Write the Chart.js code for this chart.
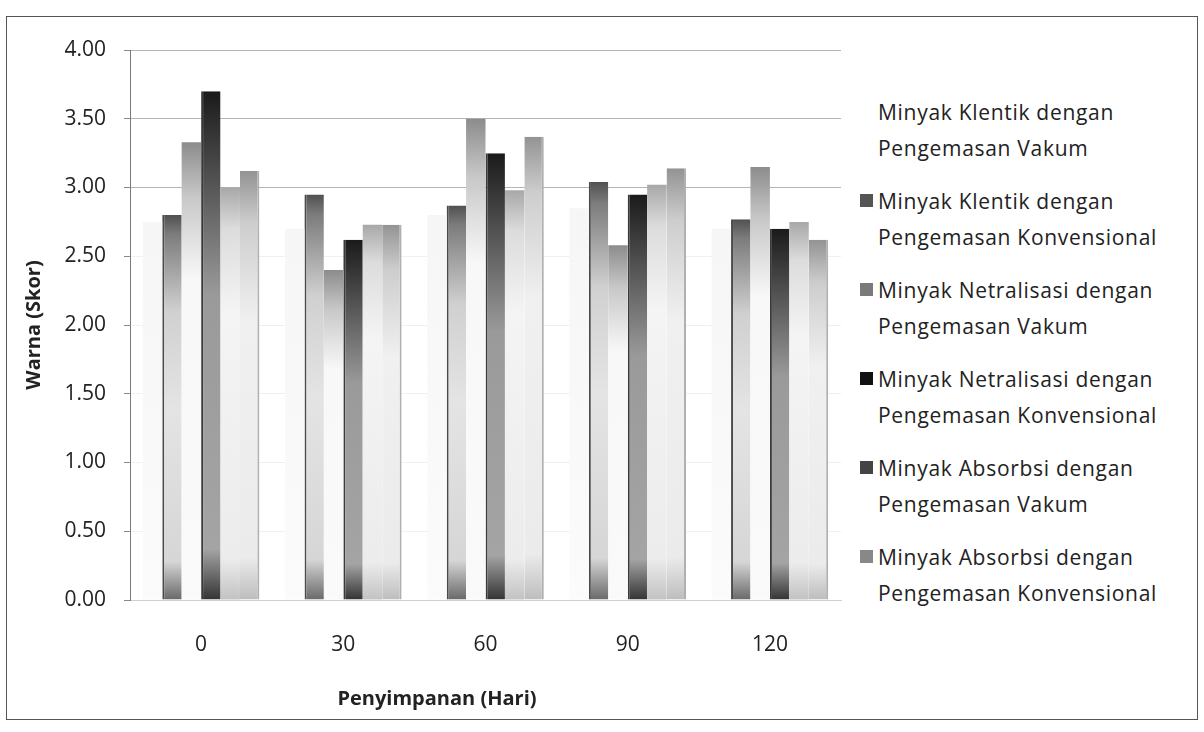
<!DOCTYPE html>
<html>
<head>
<meta charset="utf-8">
<script src="https://cdn.jsdelivr.net/npm/chart.js@4.4.1/dist/chart.umd.min.js"></script>
<style>
  body { margin: 0; background: #fff; }
  #wrap { position: relative; width: 1204px; height: 732px; font-family: "Open Sans", Lato, sans-serif; color: #222; }
  #frame { position: absolute; left: 6px; top: 16px; width: 1192px; height: 704px; border: 1px solid #555; box-sizing: border-box; }
  #chartBox { position: absolute; left: 0; top: 0; width: 850px; height: 732px; }
  #xTitle { position: absolute; left: 317px; top: 684px; width: 240px; text-align: center; font-weight: bold; font-size: 20px; }
  #legend { position: absolute; left: 858px; top: 94px; width: 340px; }
  .item { position: relative; height: 89px; }
  .swatch { position: absolute; left: 2px; top: 11px; width: 13px; height: 13px; }
  .text { position: absolute; left: 20px; top: 0; font-size: 21px; line-height: 36px; letter-spacing: 0.7px; white-space: nowrap; }
</style>
</head>
<body>
<div id="wrap">
  <div id="frame"></div>
  <div id="chartBox"><canvas id="colorChart"></canvas></div>
  <div id="xTitle">Penyimpanan (Hari)</div>
  <div id="legend"></div>
</div>
<script>
// storage days
const categories = ['0', '30', '60', '90', '120'];

// colour scores per oil treatment / packaging
const klentikVakum = [2.75, 2.70, 2.80, 2.85, 2.70];
const klentikKonvensional = [2.80, 2.95, 2.87, 3.04, 2.77];
const netralisasiVakum = [3.33, 2.40, 3.50, 2.58, 3.15];
const netralisasiKonvensional = [3.70, 2.62, 3.25, 2.95, 2.70];
const absorbsiVakum = [3.00, 2.73, 2.98, 3.02, 2.75];
const absorbsiKonvensional = [3.12, 2.73, 3.37, 3.14, 2.62];

const seriesLabels = [
  'Minyak Klentik dengan Pengemasan Vakum',
  'Minyak Klentik dengan Pengemasan Konvensional',
  'Minyak Netralisasi dengan Pengemasan Vakum',
  'Minyak Netralisasi dengan Pengemasan Konvensional',
  'Minyak Absorbsi dengan Pengemasan Vakum',
  'Minyak Absorbsi dengan Pengemasan Konvensional'
];

const yTickValues = [0, 0.5, 1, 1.5, 2, 2.5, 3, 3.5, 4];

// vertical gradient from the bar top down to zero
function barFill(stops) {
  return function(ctx) {
    const chart = ctx.chart;
    const y = chart.scales.y;
    if (!chart.chartArea || !y || ctx.type !== 'data') return stops[stops.length - 1][1];
    const top = y.getPixelForValue(ctx.raw);
    const base = y.getPixelForValue(0);
    const g = chart.ctx.createLinearGradient(0, top, 0, base);
    stops.forEach(([o, c]) => g.addColorStop(o, c));
    return g;
  };
}

const styles = [
  { swatch: '#ffffff', fill: [[0, '#f6f6f6'], [1, '#fbfbfb']], border: 0, borderColor: '#fff' },
  { swatch: '#555555', fill: [[0, '#505050'], [0.05, '#7c7c7c'], [0.25, '#d0d0d0'], [0.5, '#e4e4e4'], [0.9, '#d6d6d6'], [1, '#686868']],
    border: { left: 2 }, borderColor: '#4a4a4a' },
  { swatch: '#7a7a7a', fill: [[0, '#8c8c8c'], [0.12, '#c8c8c8'], [0.3, '#f8f8f8'], [1, '#fafafa']], border: 0, borderColor: '#fff' },
  { swatch: '#111111', fill: [[0, '#1a1a1a'], [0.15, '#4a4a4a'], [0.4, '#9a9a9a'], [0.9, '#a4a4a4'], [1, '#333']],
    border: { left: 2 }, borderColor: '#3a3a3a' },
  { swatch: '#444444', fill: [[0, '#a8a8a8'], [0.1, '#dcdcdc'], [0.3, '#f4f4f4'], [0.9, '#ececec'], [1, '#c2c2c2']], border: 0, borderColor: '#fff' },
  { swatch: '#888888', fill: [[0, '#939393'], [0.12, '#cdcdcd'], [0.35, '#f0f0f0'], [0.9, '#ebebeb'], [1, '#bdbdbd']],
    border: { right: 2 }, borderColor: '#b0b0b0' }
];

const seriesValues = [klentikVakum, klentikKonvensional, netralisasiVakum,
  netralisasiKonvensional, absorbsiVakum, absorbsiKonvensional];

const datasets = seriesValues.map((values, i) => ({
  label: seriesLabels[i],
  data: values,
  backgroundColor: barFill(styles[i].fill),
  borderWidth: styles[i].border,
  borderColor: styles[i].borderColor,
  borderSkipped: 'start',
  categoryPercentage: 0.82,
  barPercentage: 1.0
}));

const colorChart = new Chart(document.getElementById('colorChart'), {
  type: 'bar',
  data: { labels: categories, datasets: datasets },
  options: {
    responsive: true,
    maintainAspectRatio: false,
    animation: false,
    layout: { padding: { left: 22, right: 9, top: 50, bottom: 0 } },
    plugins: {
      legend: { display: false },
      tooltip: { enabled: false }
    },
    scales: {
      x: {
        grid: { display: false },
        border: { display: true, color: '#cfcfcf' },
        ticks: { color: '#222', padding: 24, font: { family: 'Open Sans', size: 21 } },
        afterFit: (scale) => { scale.height = 132; }
      },
      y: {
        min: 0,
        max: 4,
        afterBuildTicks: (scale) => { scale.ticks = yTickValues.map(v => ({ value: v })); },
        grid: {
          color: (ctx) => (ctx.tick && ctx.tick.value >= 3 ? '#b4b4b4' : '#f0f0f0'),
          tickColor: '#8a8a8a',
          tickLength: 6
        },
        border: { display: true, color: '#7a7a7a' },
        ticks: {
          color: '#222',
          padding: 18,
          font: { family: 'Open Sans', size: 21 },
          callback: (value) => Number(value).toFixed(2)
        },
        title: {
          display: true,
          text: 'Warna (Skor)',
          color: '#222',
          padding: 0,
          font: { family: 'Open Sans', size: 20, weight: 'bold' }
        },
        afterFit: (scale) => { scale.width = 108; }
      }
    }
  }
});

// two-line legend beside the plot
const legendEl = document.getElementById('legend');
colorChart.data.datasets.forEach((ds, i) => {
  const parts = ds.label.split(' dengan ');
  const item = document.createElement('div');
  item.className = 'item';
  item.innerHTML = '<div class="swatch" style="background:' + styles[i].swatch + '"></div>' +
    '<div class="text">' + parts[0] + ' dengan<br>' + parts[1] + '</div>';
  legendEl.appendChild(item);
});
</script>
</body>
</html>
